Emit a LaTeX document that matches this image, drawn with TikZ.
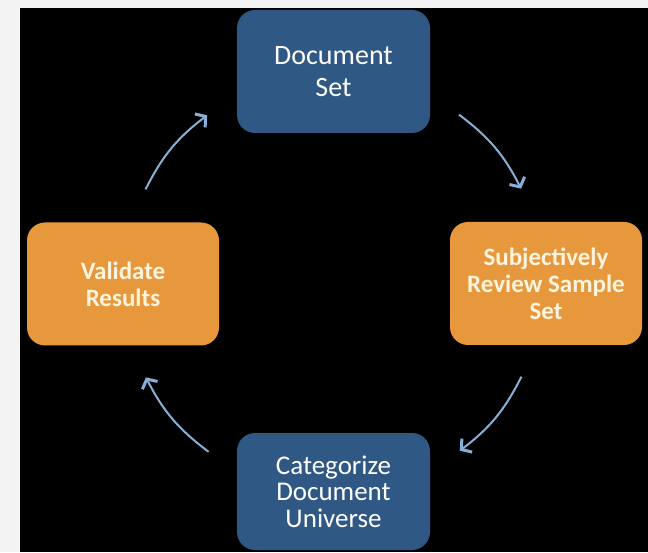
\documentclass[tikz,border=0pt]{standalone}
\usepackage{fontspec}
\setmainfont{Carlito}
\usepackage{tikz}
\usetikzlibrary{arrows.meta}
\definecolor{stepblue}{RGB}{47,88,132}
\definecolor{steporange}{RGB}{232,152,60}
\definecolor{cyclearrow}{RGB}{135,176,216}
\definecolor{creamtext}{RGB}{255,244,222}
\definecolor{margingray}{RGB}{243,243,243}

\begin{document}
\begin{tikzpicture}[x=1pt, y=1pt,
  bluebox/.style={fill=stepblue, text=white, align=center, rounded corners=18pt,
    minimum width=193pt, inner sep=0pt, font=\fontsize{27}{30}\selectfont},
  orangebox/.style={fill=steporange, text=creamtext, align=center, rounded corners=18pt,
    minimum width=192pt, minimum height=123pt, inner sep=0pt, font=\bfseries\fontsize{25}{27}\selectfont},
  cyc/.style={draw=cyclearrow, line width=2pt,
    -{Straight Barb[length=7pt,width=17pt,line width=3pt]}}]
  \fill[margingray] (0,0) rectangle (648,552);
  \fill[black] (20,0) rectangle (648,544);
  \useasboundingbox (0,0) rectangle (648,552);
  \node[bluebox, minimum height=123pt, font=\fontsize{28}{32}\selectfont] (docset) at (333.5,480.5) {Document\\Set};
  \node[orangebox] (review) at (546,268.5) {Subjectively\\Review Sample\\Set};
  \node[bluebox, minimum height=117pt, font=\fontsize{27}{26.5}\selectfont] (categorize) at (333.5,60.5) {Categorize\\Document\\Universe};
  \node[orangebox] (validate) at (123,268) {Validate\\Results};
  \coordinate (hub) at (333.5,269);
  \foreach \n/\a in {a1/153.5, a2/127, b1/53.3, b2/26.7, c1/-26.5, c2/-53, d1/-126.5, d2/-153.3}
     \coordinate (\n) at ([shift={(\a:210)}]hub);
  \foreach \s/\e in {a1/a2,b1/b2,c1/c2,d1/d2}
     \draw[cyc] (\s) to[bend left=13] (\e);
\end{tikzpicture}
\end{document}
